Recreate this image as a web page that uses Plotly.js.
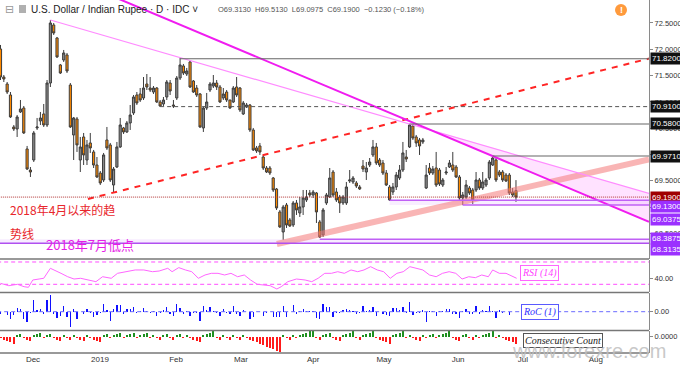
<!DOCTYPE html>
<html><head><meta charset="utf-8">
<script src="https://cdn.plot.ly/plotly-3.0.1.min.js"></script>
<style>html,body{margin:0;padding:0;background:#fff}#chart{width:680px;height:368px}</style>
</head><body><div id="chart"></div>
<script>
// ---------- daily USD/INR candles (trading-day index 0 = 19 Nov 2018) ----------
const openP = [72.006,71.473,71.340,71.131,70.523,70.485,70.808,70.884,70.105,69.705,
69.895,70.504,70.637,70.770,70.561,71.359,72.462,72.215,71.702,71.797,
71.892,71.321,70.371,70.675,69.895,70.333,69.895,70.219,70.048,69.800,
69.648,69.515,70.276,70.181,69.420,69.762,70.143,70.504,70.428,70.599,
70.789,71.131,71.150,71.074,71.340,71.264,71.188,71.264,70.998,70.960,
71.093,71.359,70.941,71.074,71.454,71.683,71.530,71.759,71.397,71.264,
71.150,70.504,70.884,71.226,71.302,71.359,71.283,71.074,71.188,71.036,
70.998,71.283,71.264,70.770,70.903,70.941,70.466,70.124,70.162,69.952,
69.743,69.743,69.553,69.344,68.907,68.527,69.040,68.755,68.660,69.078,
68.888,69.002,69.135,69.268,69.230,69.268,68.717,68.470,69.078,69.192,
69.667,69.287,69.192,69.078,69.078,69.496,69.477,69.458,69.382,69.781,
69.667,69.800,69.991,70.143,69.895,69.838,69.648,69.382,69.287,69.382,
69.553,69.705,69.952,70.143,70.542,70.333,70.276,70.238,69.363,69.743,
69.648,69.743,69.705,69.420,69.648,69.762,69.800,69.762,69.572,69.173,
69.192,69.363,69.325,69.325,69.515,69.363,69.420,69.553,69.800,69.895,
69.667,69.667,69.610,69.610,69.287,69.313];
const highP = [72.082,71.511,71.378,71.188,70.561,70.751,71.036,70.922,70.162,69.762,
70.447,70.694,70.808,70.960,71.416,72.557,72.500,72.234,71.721,71.987,
71.930,71.359,70.713,70.713,70.333,70.409,70.276,70.409,70.086,69.952,
69.686,70.029,70.523,70.219,69.762,70.238,70.694,70.523,70.637,70.941,
71.131,71.188,71.264,71.473,71.530,71.473,71.302,71.283,71.036,71.093,
71.416,71.416,71.036,71.492,71.835,71.721,71.645,71.778,71.416,71.321,
71.169,70.903,71.169,71.378,71.511,71.416,71.321,71.264,71.226,71.036,
71.302,71.473,71.283,71.017,70.979,70.960,70.504,70.162,70.219,69.991,
69.781,69.781,69.572,69.363,68.945,69.040,69.078,68.793,69.116,69.135,
69.192,69.325,69.325,69.325,69.325,69.287,68.755,68.983,69.268,69.743,
69.705,69.363,69.230,69.230,69.477,69.705,69.591,69.496,69.420,69.895,
69.857,69.933,70.276,70.219,69.933,69.895,69.705,69.420,69.458,69.667,
69.800,70.238,70.086,70.580,70.580,70.371,70.314,70.314,69.800,69.838,
69.781,70.048,69.743,69.553,69.762,69.895,70.048,69.800,69.610,69.287,
69.515,69.401,69.363,69.667,69.553,69.667,69.553,69.895,69.971,69.952,
69.705,69.705,69.648,69.648,69.363,69.513];
const lowP = [71.416,71.378,71.150,70.694,70.447,70.333,70.789,70.390,69.705,69.572,
69.857,70.466,70.561,70.523,70.523,71.283,72.272,71.835,71.530,71.759,
71.549,70.504,69.895,70.048,69.667,69.800,69.800,70.029,69.743,69.553,
69.420,69.477,70.086,69.477,69.268,69.743,70.124,70.390,70.409,70.466,
70.751,70.941,70.998,71.036,71.226,71.188,71.150,70.979,70.903,70.922,
71.036,71.131,70.884,71.036,71.416,71.511,71.492,71.264,71.169,71.093,
70.504,70.428,70.846,71.188,71.264,71.226,70.979,71.036,70.998,70.865,
70.979,71.093,70.808,70.751,70.884,70.428,70.067,70.029,69.991,69.705,
69.648,69.610,69.287,68.945,68.603,68.377,68.603,68.622,68.622,68.850,
68.812,68.850,69.097,69.192,69.173,68.698,68.413,68.432,69.040,69.173,
69.192,69.097,68.888,69.040,69.040,69.458,69.439,69.363,69.325,69.667,
69.515,69.762,69.952,69.800,69.762,69.610,69.401,69.116,69.230,69.325,
69.515,69.667,69.857,70.124,70.276,70.143,69.991,70.200,69.344,69.610,
69.610,69.382,69.401,69.382,69.610,69.743,69.667,69.553,69.135,69.0375,
69.154,69.230,69.059,69.287,69.325,69.325,69.382,69.515,69.781,69.477,
69.572,69.477,69.477,69.230,69.192,69.0975];
const closeP = [71.473,71.435,71.188,70.713,70.485,70.713,70.865,70.409,69.724,69.667,
70.409,70.523,70.694,70.561,71.359,72.500,72.310,71.854,71.549,71.930,
71.587,70.523,70.694,70.181,70.143,69.991,70.181,70.124,69.800,69.572,
69.458,69.991,70.124,69.515,69.724,70.143,70.561,70.428,70.599,70.751,
71.093,70.979,71.036,71.264,71.283,71.226,71.264,70.998,70.922,71.036,
71.378,71.207,70.922,71.454,71.702,71.549,71.587,71.283,71.188,71.131,
70.523,70.884,70.998,71.340,71.359,71.283,70.998,71.150,71.036,70.884,
71.264,71.131,70.846,70.979,70.941,70.466,70.086,70.067,70.048,69.743,
69.667,69.648,69.325,68.983,68.622,69.002,68.660,68.641,69.078,68.945,
69.002,69.173,69.192,69.230,69.287,68.907,68.432,68.945,69.230,69.553,
69.230,69.135,69.078,69.192,69.382,69.515,69.553,69.401,69.344,69.724,
69.743,69.857,70.143,69.838,69.800,69.648,69.420,69.135,69.382,69.610,
69.705,70.029,69.914,70.561,70.314,70.219,70.162,70.276,69.610,69.648,
69.724,69.420,69.439,69.515,69.667,69.838,69.705,69.572,69.173,69.230,
69.420,69.268,69.135,69.515,69.363,69.477,69.515,69.857,69.933,69.515,
69.610,69.515,69.496,69.268,69.230,69.190];

// ---------- indicators ----------
const rsiIdx = [0,2.5,5.1,7.1,8.4,9.7,11.6,13,15,16.2,18.2,20.2,22.1,24.1,26.7,28.7,30.7,33.3,35.2,37.9,
40.5,43.1,45.7,47.7,50.3,51.6,53.6,55.6,57.5,59.5,61.5,63.4,65.4,67.4,69.3,71.3,73.3,75.2,77.2,79.2,
81.1,83.1,84.4,86.4,89,91.6,93.6,95.5,97.5,99.5,101.4,103.4,105.4,107.4,109.3,111.3,113.3,115.2,117.2,119.2,
121.1,123.1,125.1,127,129,131,132.9,134.9,136.9,138.8,140.8,142.8,144.7,146.7,148,150,152,153.9,155.2];
const rsiVal = [31.8,27.5,30,25.7,24.6,37.7,39.5,40.8,58.7,55.7,49.7,43.6,39.5,40.8,37.7,34.7,43.6,40.8,49.7,52.6,
55.7,55.7,52.6,53.8,58.7,52.6,59.9,55.7,52.6,40.8,46.7,49.7,49.7,46.7,49.7,43.6,46.7,37.7,30,28.7,
27.5,21.6,25.7,34.7,39.5,37.7,34.7,40.8,49.7,49.7,52.6,49.7,55.7,52.6,55.7,61.6,55.7,52.6,40.8,49.7,
52.6,61.6,58.7,55.7,46.7,43.6,49.7,52.6,49.7,39.5,43.6,41.9,46.7,43.6,55.7,49.7,49.7,43.6,40.8];
const rocVal = [-0.20,-0.05,-0.35,-0.68,-0.33,0.33,0.22,-0.65,-0.98,-0.08,
1.06,0.16,0.24,-0.19,1.13,1.60,-0.26,-0.63,-0.42,0.53,
-0.48,-1.49,0.24,-0.73,-0.05,-0.22,0.27,-0.08,-0.46,-0.33,
-0.16,0.77,0.19,-0.87,0.30,0.60,0.59,-0.19,0.24,0.21,
0.48,-0.16,0.08,0.32,0.03,-0.08,0.05,-0.37,-0.11,0.16,
0.48,-0.24,-0.40,0.75,0.35,-0.21,0.05,-0.42,-0.13,-0.08,
-0.86,0.51,0.16,0.48,0.03,-0.11,-0.40,0.21,-0.16,-0.21,
0.54,-0.19,-0.40,0.19,-0.05,-0.67,-0.54,-0.03,-0.03,-0.44,
-0.11,-0.03,-0.46,-0.49,-0.52,0.55,-0.50,-0.03,0.63,-0.19,
0.08,0.25,0.03,0.05,0.08,-0.55,-0.69,0.75,0.41,0.47,
-0.46,-0.14,-0.08,0.16,0.27,0.19,0.05,-0.22,-0.08,0.55,
0.03,0.16,0.41,-0.44,-0.05,-0.22,-0.33,-0.41,0.36,0.33,
0.14,0.47,-0.16,0.93,-0.35,-0.14,-0.08,0.16,-0.95,0.05,
0.11,-0.44,0.03,0.11,0.22,0.25,-0.19,-0.19,-0.57,0.08,
0.27,-0.22,-0.19,0.55,-0.22,0.16,0.05,0.49,0.11,-0.60,
0.14,-0.14,-0.03,-0.33,-0.05,-0.06];
const consVal = [-1,-2,-3,-4,-5,1,2,-1,-2,-3,
1,2,3,-1,1,2,-1,-2,-3,1,
-1,-2,1,-1,-2,-3,1,-1,-2,-3,
-4,1,2,-1,1,2,3,-1,1,2,
3,-1,1,2,3,-1,1,-1,-2,1,
2,-1,-2,1,2,-1,1,-1,-2,-3,
-4,1,2,3,4,-1,-2,1,-1,-2,
1,-1,-2,1,-1,-2,-3,-4,-5,-6,
-7,-8,-9,-10,-11,1,-1,-2,1,-1,
1,2,3,4,5,-1,-2,1,2,3,
-1,-2,-3,1,2,3,4,-1,-2,1,
2,3,4,-1,-2,-3,-4,-5,1,2,
3,4,-1,1,-1,-2,-3,1,-1,1,
2,-1,1,2,3,4,-1,-2,-3,1,
2,-1,-2,1,-1,1,2,3,4,-1,
1,-1,-2,-3,-4,-5];

// ---------- axis labels ----------
const monthLabels = ['Dec','2019','Feb','Mar','Apr','May','Jun','Jul','Aug'];
const monthIdx = [9.77,29.9,52.8,72.3,94.0,115.3,137.6,157.1,179.0];

// ---------- drawn levels and trend lines ----------
const levelValues = [71.82,70.91,70.58,69.971,69.19,69.13,69.0375,68.3875,68.3135];
const levelLabels = ['71.8200','70.9100','70.5800','69.9710','69.1900','69.1300','69.0375','68.3875','68.3135'];
const levelStart  = [54,48,123,148,-1,117,139,96,-1];
const lightLineX = [15,195], lightLineY = [72.557,69.259];
const strongLineX = [29.9,195], strongLineY = [73.108,68.721];
const redLineX = [26.3,195], redLineY = [69.154,71.823];
const bandLineX = [83.1,195], bandLineY = [68.298,69.905];
const wedgeX = [127.6,195,195,127.6], wedgeY = [70.504,69.259,68.721,70.504];

const N = closeP.length;
const idx = Array.from({length:N},(_,i)=>i);
const XEND = 195;

// pixel helpers for layout-only placement
const PW = 649, PH = 353;
const px = v => v/PW, py = v => 1 - v/PH;

const traces = [];
traces.push({type:'scatter',x:wedgeX,y:wedgeY,fill:'toself',fillcolor:'rgba(255,150,255,0.28)',line:{width:0},mode:'lines',xaxis:'x',yaxis:'y',hoverinfo:'skip'});
traces.push({type:'scatter',x:[-1,XEND,XEND,-1],y:[68.3135,68.3135,68.3875,68.3875],fill:'toself',fillcolor:'rgba(210,150,255,0.18)',line:{width:0},mode:'lines',hoverinfo:'skip'});
traces.push({type:'scatter',x:[117,XEND,XEND,117],y:[69.0375,69.0375,69.13,69.13],fill:'toself',fillcolor:'rgba(210,150,255,0.16)',line:{width:0},mode:'lines',hoverinfo:'skip'});
traces.push({type:'scatter',x:bandLineX,y:bandLineY,mode:'lines',line:{color:'rgba(244,120,120,0.55)',width:6},hoverinfo:'skip'});
traces.push({type:'scatter',x:redLineX,y:redLineY,mode:'lines',line:{color:'#ff2424',width:2,dash:'6px,6px'},hoverinfo:'skip'});
traces.push({type:'scatter',x:lightLineX,y:lightLineY,mode:'lines',line:{color:'#ff8cff',width:1.2},hoverinfo:'skip'});
traces.push({type:'scatter',x:strongLineX,y:strongLineY,mode:'lines',line:{color:'#f01cf0',width:2},hoverinfo:'skip'});

const levelStyle = [
 {color:'#666',width:1.2},{color:'#555',width:1,dash:'4px,3px'},{color:'#666',width:1.2},{color:'#666',width:1.2},
 {color:'#b03030',width:1,dash:'1px,1px'},{color:'#c060f5',width:1.5},{color:'#c060f5',width:1.5},{color:'#c060f5',width:1.5},{color:'#b050f0',width:1.5}];
levelValues.forEach((v,k)=>{
  traces.push({type:'scatter',x:[levelStart[k],XEND],y:[v,v],mode:'lines',line:levelStyle[k],hoverinfo:'skip'});
});

traces.push({type:'candlestick',x:idx,open:openP,high:highP,low:lowP,close:closeP,
  increasing:{line:{color:'#3c3c3c',width:1},fillcolor:'#8a8a8a'},
  decreasing:{line:{color:'#3c3c3c',width:1},fillcolor:'#ff8a00'},
  whiskerwidth:0,hoverinfo:'skip',xaxis:'x',yaxis:'y'});

// RSI panel
traces.push({type:'scatter',x:[-1,XEND],y:[70,70],mode:'lines',line:{color:'#ff4dff',width:1,dash:'4px,3px'},xaxis:'x',yaxis:'y2',hoverinfo:'skip'});
traces.push({type:'scatter',x:[-1,XEND],y:[30,30],mode:'lines',line:{color:'#ff4dff',width:1,dash:'4px,3px'},xaxis:'x',yaxis:'y2',hoverinfo:'skip'});
traces.push({type:'scatter',x:rsiIdx,y:rsiVal,mode:'lines',line:{color:'#ff66ff',width:1},xaxis:'x',yaxis:'y2',hoverinfo:'skip'});
// RoC panel
traces.push({type:'scatter',x:[-1,XEND],y:[0,0],mode:'lines',line:{color:'#6a6aff',width:1,dash:'4px,3px'},xaxis:'x',yaxis:'y3',hoverinfo:'skip'});
traces.push({type:'bar',x:idx,y:rocVal,width:0.38,marker:{color:'#1010ff',line:{width:0}},xaxis:'x',yaxis:'y3',hoverinfo:'skip'});
// Consecutive count panel
traces.push({type:'bar',x:idx,y:consVal,width:0.6,marker:{color:consVal.map(v=>v>0?'#1f8f1f':'#ff1a1a'),line:{width:0}},xaxis:'x',yaxis:'y4',hoverinfo:'skip'});

const tf = {family:'Liberation Sans, Arial, sans-serif',size:7.5,color:'#333'};
const yCommon = {side:'right',anchor:'x',showgrid:false,zeroline:false,showline:true,linecolor:'#8a8a8a',linewidth:1,
  ticks:'outside',ticklen:3,tickcolor:'#8a8a8a',tickfont:tf,fixedrange:true};

const annotations = [];
const boxColors = ['#111','#111','#111','#111','#a00000','#9b30ff','#9b30ff','#9b30ff','#9b30ff'];
const boxShift = [0,0,0,0,0,-6.4,-14,1,-6.8];
levelValues.forEach((v,k)=>{
  annotations.push({xref:'paper',x:1,xanchor:'left',xshift:1,yref:'y',y:v,yshift:boxShift[k],yanchor:'middle',
    text:levelLabels[k],showarrow:false,bgcolor:boxColors[k],borderpad:1,
    font:{family:'Liberation Sans, Arial, sans-serif',size:8,color:'#fff'}});
});
// header
annotations.push({xref:'paper',yref:'paper',x:px(3),y:py(9),xanchor:'left',yanchor:'middle',showarrow:false,text:'⊟',font:{family:'DejaVu Sans',size:11,color:'#999'}});
annotations.push({xref:'paper',yref:'paper',x:px(29),y:py(9),xanchor:'left',yanchor:'middle',showarrow:false,
  text:'U.S. Dollar / Indian Rupee · D · IDC ˅',font:{family:'Liberation Sans, Arial, sans-serif',size:10,color:'#222'}});
annotations.push({xref:'paper',yref:'paper',x:px(216),y:py(9),xanchor:'left',yanchor:'middle',showarrow:false,
  text:'O69.3130  H69.5130  L69.0975  C69.1900  −0.1230 (−0.18%)',font:{family:'Liberation Sans, Arial, sans-serif',size:7.5,color:'#555'}});
annotations.push({xref:'paper',yref:'paper',x:px(621),y:py(10),xanchor:'center',yanchor:'middle',showarrow:false,
  text:'<b>!</b>',font:{family:'Liberation Sans, Arial, sans-serif',size:9,color:'#fff'}});
// chart notes
annotations.push({xref:'paper',yref:'paper',x:px(8),y:py(209),xanchor:'left',yanchor:'middle',showarrow:false,
  text:'2018年4月以来的趋',font:{family:'Noto Sans CJK SC',size:12,color:'#e8262b'}});
annotations.push({xref:'paper',yref:'paper',x:px(8),y:py(233),xanchor:'left',yanchor:'middle',showarrow:false,
  text:'势线',font:{family:'Noto Sans CJK SC',size:12,color:'#e8262b'}});
annotations.push({xref:'paper',yref:'paper',x:px(44),y:py(244),xanchor:'left',yanchor:'middle',showarrow:false,
  text:'2018年7月低点',font:{family:'Noto Sans CJK SC',size:13,color:'#e61ee6'}});
// indicator tags
annotations.push({xref:'paper',yref:'paper',x:px(520),y:py(273),xanchor:'left',yanchor:'middle',showarrow:false,
  text:'<i>RSI (14)</i>',bgcolor:'#fff',bordercolor:'#ff66ff',borderwidth:1,borderpad:1,
  font:{family:'Liberation Serif, serif',size:10,color:'#ff44ff'}});
annotations.push({xref:'paper',yref:'paper',x:px(521),y:py(312),xanchor:'left',yanchor:'middle',showarrow:false,
  text:'<i>RoC (1)</i>',bgcolor:'#fff',bordercolor:'#5a5aff',borderwidth:1,borderpad:1,
  font:{family:'Liberation Serif, serif',size:10,color:'#3030ff'}});
annotations.push({xref:'paper',yref:'paper',x:px(523),y:py(340),xanchor:'left',yanchor:'middle',showarrow:false,
  text:'<i>Consecutive Count</i>',bgcolor:'#fff',bordercolor:'#555',borderwidth:1,borderpad:1,
  font:{family:'Liberation Serif, serif',size:10,color:'#222'}});
// watermark
annotations.push({xref:'paper',yref:'paper',x:px(589),y:py(351),xanchor:'center',yanchor:'middle',showarrow:false,
  text:'www.forexre.com',font:{family:'Liberation Sans, Arial, sans-serif',size:20,color:'rgba(190,190,190,0.85)'}});

const sep = (y,w,c) => ({type:'line',xref:'paper',yref:'paper',x0:0,x1:1,y0:py(y),y1:py(y),line:{color:c,width:w}});
const shapes = [
  sep(259,1.5,'#777'), sep(292.5,1.5,'#777'), sep(330.5,1.5,'#777'), sep(353,1.5,'#777'),
  {type:'rect',xref:'paper',yref:'paper',x0:px(19),x1:px(26),y0:py(13),y1:py(5),fillcolor:'#b0b0b0',line:{width:0}},
  {type:'circle',xref:'paper',yref:'paper',x0:px(615),x1:px(627),y0:py(16),y1:py(4),fillcolor:'#ff9a3c',line:{width:0}}
];

const layout = {
  width:680,height:368,margin:{l:0,r:31,t:0,b:15},
  paper_bgcolor:'#fff',plot_bgcolor:'#fff',showlegend:false,hovermode:false,
  boxgap:0.08,
  xaxis:{anchor:'y4',domain:[0,1],range:[-0.15,XEND],tickvals:monthIdx,ticktext:monthLabels,
    ticks:'',showgrid:false,zeroline:false,showline:false,tickfont:{family:'Liberation Sans, Arial, sans-serif',size:8,color:'#333'},
    rangeslider:{visible:false},fixedrange:true},
  yaxis:Object.assign({},yCommon,{domain:[0.2663,1],range:[68.013,72.937],tick0:68,dtick:0.5,tickformat:'.4f'}),
  yaxis2:Object.assign({},yCommon,{domain:[0.1728,0.2635],range:[16.2,73.6],tickvals:[40],ticktext:['40.00']}),
  yaxis3:Object.assign({},yCommon,{domain:[0.0652,0.170],range:[-1.726,1.764],tickvals:[0],ticktext:['0.00']}),
  yaxis4:Object.assign({},yCommon,{domain:[0,0.0623],range:[-11.64,4.07],tickvals:[0],ticktext:['0.0000']}),
  annotations:annotations,shapes:shapes,bargap:0
};
Plotly.newPlot('chart',traces,layout,{staticPlot:true,displayModeBar:false});
</script></body></html>
